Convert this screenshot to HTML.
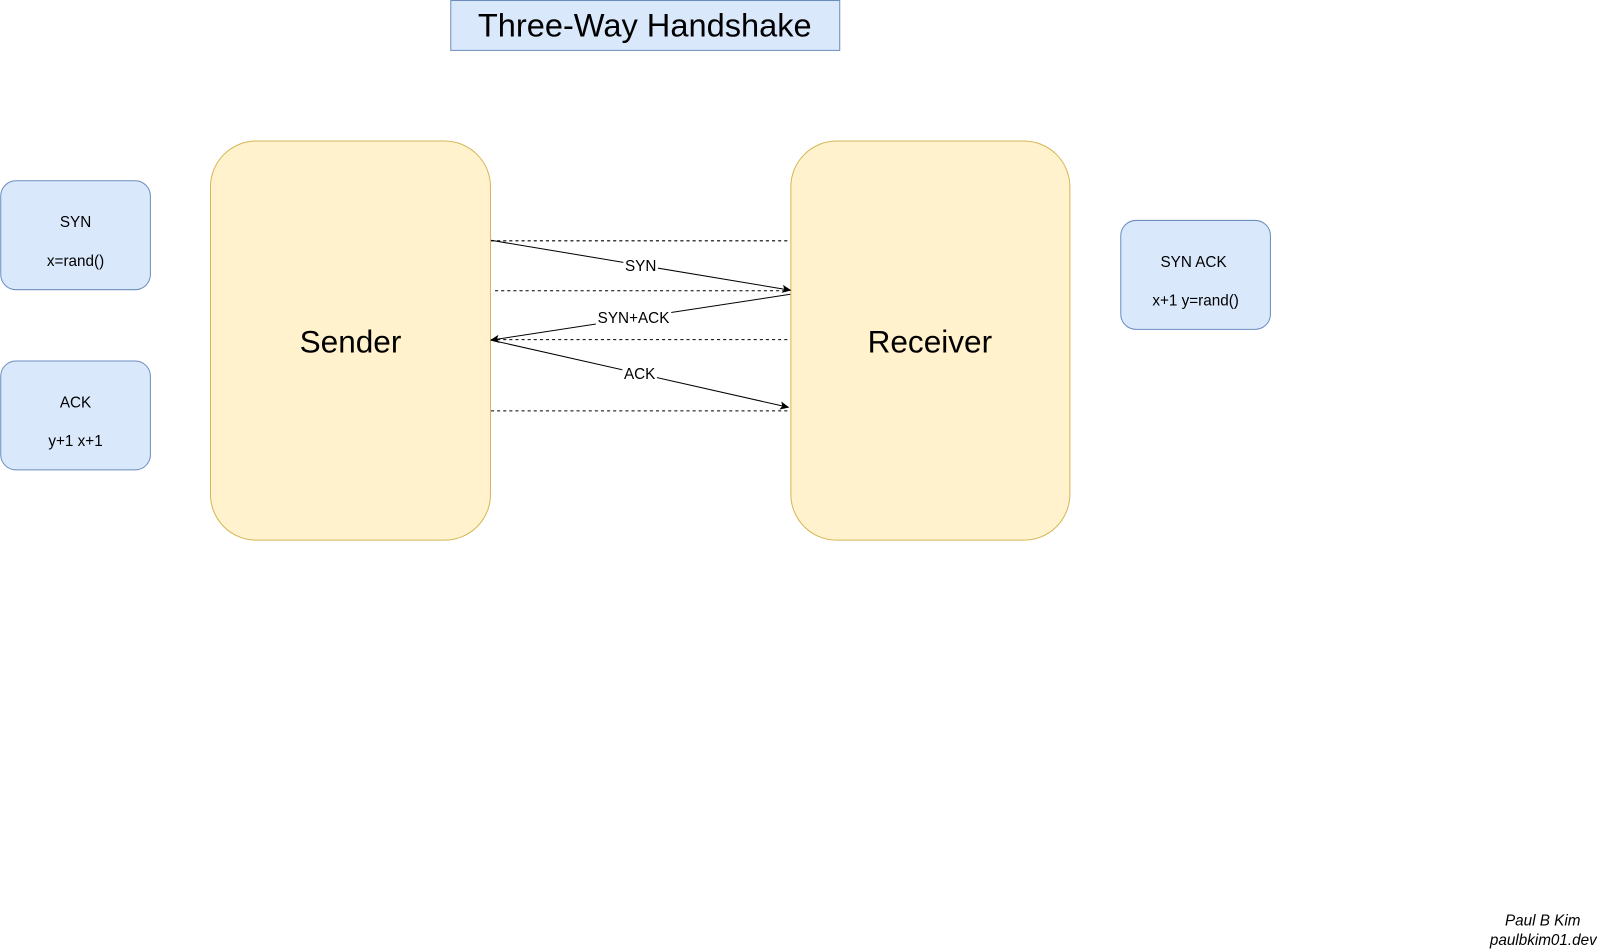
<!DOCTYPE html>
<html><head><style>html,body{margin:0;padding:0;background:#fff;}svg{display:block}</style></head>
<body>
<svg width="1597" height="950" viewBox="0 0 1568 933" xmlns="http://www.w3.org/2000/svg" font-family="'Liberation Sans', Helvetica, Arial, sans-serif">
<defs><marker id="a" markerWidth="10" markerHeight="8" refX="8" refY="4" orient="auto" markerUnits="userSpaceOnUse"><path d="M0,0 L9,4 L0,8 L2,4 Z" fill="#000"/></marker></defs>
<rect x="442.5" y="0.5" width="382" height="49" fill="#dae8fc" stroke="#6c8ebf"/>
<text x="633" y="36" font-size="32" text-anchor="middle">Three-Way Handshake</text>
<rect x="206.5" y="138.5" width="275" height="392" rx="45" fill="#fff2cc" stroke="#d6b656"/>
<text x="344" y="346" font-size="31" text-anchor="middle">Sender</text>
<rect x="776.5" y="138.5" width="274" height="392" rx="45" fill="#fff2cc" stroke="#d6b656"/>
<text x="913" y="346" font-size="31" text-anchor="middle">Receiver</text>
<rect x="0.5" y="177.5" width="147" height="107" rx="15" fill="#dae8fc" stroke="#6c8ebf"/>
<text x="74" y="223" font-size="15" text-anchor="middle">SYN</text>
<text x="74" y="261" font-size="15" text-anchor="middle">x=rand()</text>
<rect x="0.5" y="354.5" width="147" height="107" rx="15" fill="#dae8fc" stroke="#6c8ebf"/>
<text x="74" y="400" font-size="15" text-anchor="middle">ACK</text>
<text x="74" y="438" font-size="15" text-anchor="middle">y+1 x+1</text>
<rect x="1100.5" y="216.5" width="147" height="107" rx="15" fill="#dae8fc" stroke="#6c8ebf"/>
<text x="1172" y="262" font-size="15" text-anchor="middle">SYN ACK</text>
<text x="1174" y="300" font-size="15" text-anchor="middle">x+1 y=rand()</text>
<g stroke="#000" stroke-dasharray="3,3" stroke-width="1">
<line x1="482" y1="236.5" x2="774" y2="236.5"/>
<line x1="486" y1="285.5" x2="774" y2="285.5"/>
<line x1="482" y1="333.5" x2="774" y2="333.5"/>
<line x1="482" y1="403.5" x2="774" y2="403.5"/>
</g>
<g stroke="#000" stroke-width="1" fill="none">
<line x1="482" y1="236" x2="776" y2="285" marker-end="url(#a)"/>
<line x1="776" y1="289" x2="482" y2="334" marker-end="url(#a)"/>
<line x1="482" y1="334" x2="774" y2="400" marker-end="url(#a)"/>
</g>
<rect x="612" y="252" width="34" height="16" fill="#fff"/>
<text x="629" y="266" font-size="15" text-anchor="middle">SYN</text>
<rect x="585" y="303" width="74" height="16" fill="#fff"/>
<text x="622" y="317" font-size="15" text-anchor="middle">SYN+ACK</text>
<rect x="611" y="358" width="34" height="16" fill="#fff"/>
<text x="628" y="372" font-size="15" text-anchor="middle">ACK</text>
<text x="1552" y="909" font-size="15" font-style="italic" text-anchor="end">Paul B Kim</text>
<text x="1568" y="928" font-size="15" font-style="italic" text-anchor="end">paulbkim01.dev</text>
</svg>
</body></html>
